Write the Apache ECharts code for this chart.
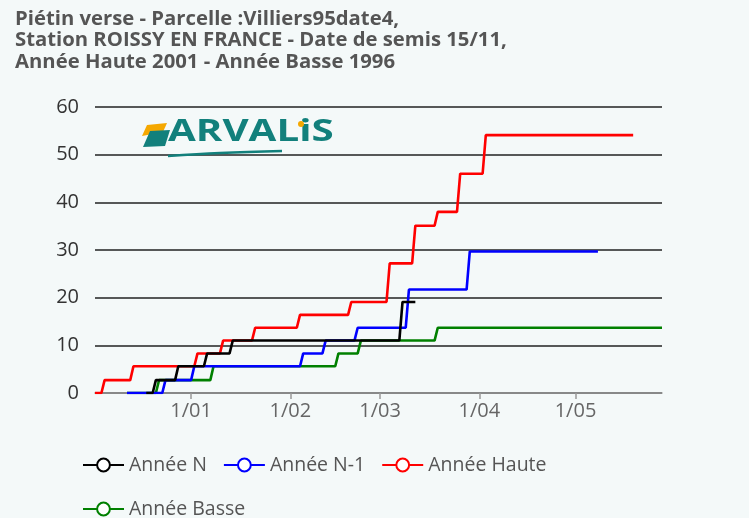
<!DOCTYPE html>
<html>
<head>
<meta charset="utf-8">
<script src="https://cdn.jsdelivr.net/npm/echarts@6/dist/echarts.min.js"></script>
<style>
html,body{margin:0;padding:0;background:#f4f9f9;}
#main{width:749px;height:518px;}
</style>
</head>
<body>
<div id="main"></div>
<script>
var titleLines = [
  'Piétin verse - Parcelle :Villiers95date4,',
  'Station ROISSY EN FRANCE - Date de semis 15/11,',
  'Année Haute 2001 - Année Basse 1996'
];
var seriesNames = ['Année N', 'Année N-1', 'Année Haute', 'Année Basse'];
var seriesColors = ['#000000', '#0000ff', '#ff0000', '#008000'];

var anneeNDates = ['2000-12-18','2000-12-20','2000-12-21','2000-12-27','2000-12-28','2001-01-05','2001-01-06','2001-01-13','2001-01-14','2001-03-07','2001-03-08','2001-03-12'];
var anneeNValues = [0, 0, 2.7, 2.7, 5.6, 5.6, 8.3, 8.3, 11.0, 11.0, 19.1, 19.1];

var anneeN1Dates = ['2000-12-12','2000-12-23','2000-12-24','2001-01-01','2001-01-02','2001-02-04','2001-02-05','2001-02-11','2001-02-12','2001-02-21','2001-02-22','2001-03-09','2001-03-10','2001-03-28','2001-03-29','2001-05-08'];
var anneeN1Values = [0, 0, 2.7, 2.7, 5.6, 5.6, 8.3, 8.3, 11.0, 11.0, 13.7, 13.7, 21.7, 21.7, 29.7, 29.7];

var hauteDates = ['2000-12-02','2000-12-04','2000-12-05','2000-12-13','2000-12-14','2001-01-02','2001-01-03','2001-01-10','2001-01-11','2001-01-20','2001-01-21','2001-02-03','2001-02-04','2001-02-19','2001-02-20','2001-03-03','2001-03-04','2001-03-11','2001-03-12','2001-03-18','2001-03-19','2001-03-25','2001-03-26','2001-04-02','2001-04-03','2001-05-19'];
var hauteValues = [0, 0, 2.7, 2.7, 5.6, 5.6, 8.3, 8.3, 11.0, 11.0, 13.7, 13.7, 16.4, 16.4, 19.1, 19.1, 27.2, 27.2, 35.1, 35.1, 38.0, 38.0, 46.0, 46.0, 54.1, 54.1];

var basseDates = ['2000-12-12','2000-12-21','2000-12-22','2001-01-07','2001-01-08','2001-02-15','2001-02-16','2001-02-22','2001-02-23','2001-03-18','2001-03-19','2001-05-28'];
var basseValues = [0, 0, 2.7, 2.7, 5.6, 5.6, 8.3, 8.3, 11.0, 11.0, 13.7, 13.7];

var xMin = '2000-12-02';
var xMax = '2001-05-28';
var yTicks = [0, 10, 20, 30, 40, 50, 60];

function zip(d, v) { return d.map(function (x, i) { return [x, v[i]]; }); }
var allData = [zip(anneeNDates, anneeNValues), zip(anneeN1Dates, anneeN1Values), zip(hauteDates, hauteValues), zip(basseDates, basseValues)];
var zOrder = [6, 5, 4, 3];

var FONT = 'Open Sans';
var chart = echarts.init(document.getElementById('main'), null, {renderer: 'canvas'});

var series = seriesNames.map(function (n, i) {
  return {
    name: n,
    type: 'line',
    data: allData[i],
    z: zOrder[i],
    showSymbol: false,
    symbol: 'emptyCircle',
    symbolSize: 12,
    lineStyle: {color: seriesColors[i], width: 2.6},
    itemStyle: {color: seriesColors[i], borderWidth: 2},
    animation: false
  };
});

var legendText = {color: '#555', fontSize: 19.5, fontFamily: FONT};

chart.setOption({
  backgroundColor: '#f4f9f9',
  animation: false,
  title: {
    text: titleLines.join('\n'),
    left: 10, top: 3,
    textStyle: {color: '#555', fontSize: 20.3, fontWeight: 'bold', fontFamily: FONT, lineHeight: 21.5}
  },
  legend: [{
    data: seriesNames.slice(0, 3),
    left: 77, top: 450,
    itemWidth: 41, itemHeight: 16, itemGap: 16,
    textStyle: legendText
  }, {
    data: seriesNames.slice(3),
    left: 77, top: 494,
    itemWidth: 41, itemHeight: 16,
    textStyle: legendText
  }],
  grid: {left: 95, right: 87, top: 107, bottom: 125, containLabel: false},
  xAxis: {
    type: 'time',
    min: xMin, max: xMax,
    axisLine: {lineStyle: {color: '#999', width: 1.5}},
    axisTick: {show: true, length: 6, lineStyle: {color: '#999', width: 1.5}},
    splitLine: {show: false},
    axisLabel: {
      color: '#666', fontSize: 20, fontFamily: FONT, margin: 8,
      formatter: function (val) {
        var d = new Date(val);
        var m = d.getMonth() + 1;
        return d.getDate() + '/' + (m < 10 ? '0' + m : m);
      }
    }
  },
  yAxis: {
    type: 'value',
    min: yTicks[0], max: yTicks[yTicks.length - 1], interval: 10,
    axisLine: {show: false},
    axisTick: {show: false},
    splitLine: {lineStyle: {color: '#222', width: 1.5}},
    axisLabel: {color: '#333', fontSize: 20, fontFamily: FONT, margin: 16}
  },
  graphic: [
    {type: 'polygon', shape: {points: [[147, 125], [167, 123], [163, 132], [142, 136]]}, style: {fill: '#f5a800'}, z: 10},
    {type: 'polygon', shape: {points: [[150, 131], [170, 130], [165, 146], [143, 147]]}, style: {fill: '#12807c'}, z: 11},
    {type: 'text', x: 168, y: 148, scaleX: 1.3, originX: 0, originY: 0, style: {text: 'ARVALiS', fill: '#12807c', fontSize: 31, fontWeight: 'bold', fontFamily: FONT, textVerticalAlign: 'bottom'}, z: 10},
    {type: 'circle', shape: {cx: 301, cy: 124, r: 3}, style: {fill: '#f5a800'}, z: 12},
    {type: 'polyline', shape: {points: [[168, 156], [220, 153], [282, 151]], smooth: 0.4}, style: {stroke: '#12807c', lineWidth: 2.5, fill: null}, z: 10}
  ],
  series: series
});
</script>
</body>
</html>
